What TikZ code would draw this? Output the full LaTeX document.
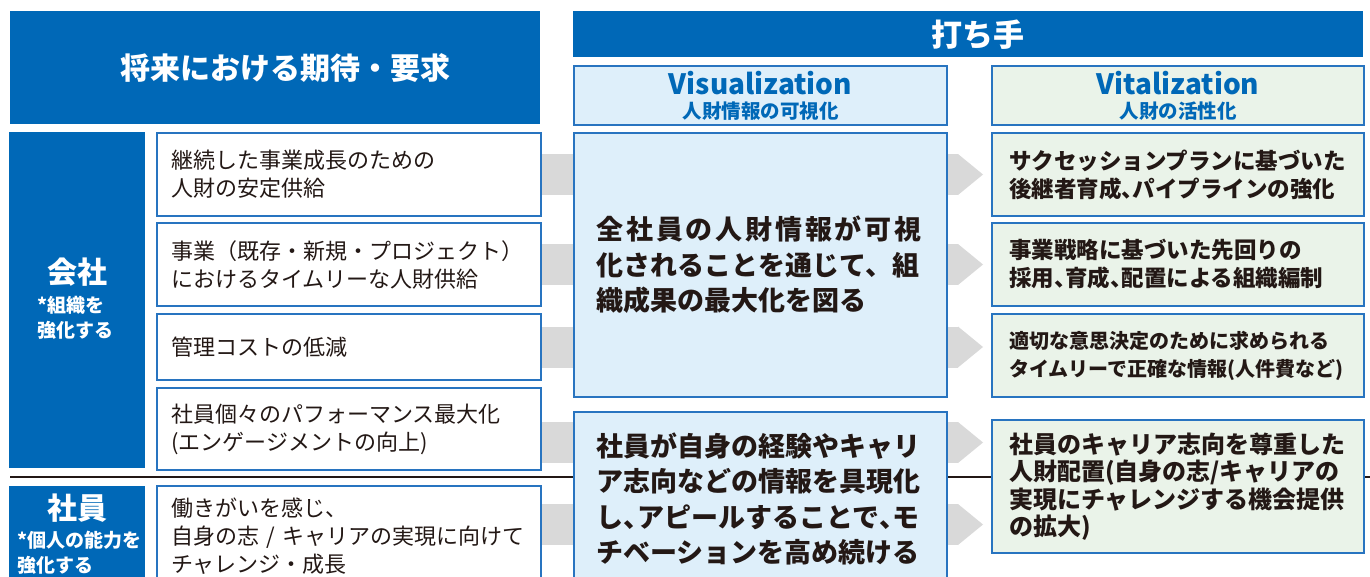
\documentclass[tikz,border=0pt]{standalone}
\usepackage{fontspec}
\setmainfont{Noto Sans CJK JP}
\usetikzlibrary{arrows.meta,backgrounds}
\definecolor{headblue}{RGB}{0,104,183}
\definecolor{lineblue}{RGB}{40,116,192}
\definecolor{visfill}{RGB}{222,239,250}
\definecolor{vitfill}{RGB}{234,243,233}
\definecolor{bandgray}{RGB}{217,217,217}
\definecolor{ink}{RGB}{35,24,21}
\newcommand\halfcomma{\makebox[.5em][l]{、}}
\newcommand\pxfont[2]{\fontsize{#1}{#2}\selectfont}

\begin{document}
\begin{tikzpicture}[x=1pt, y=-1pt,
    head/.style={fill=headblue, text=white, anchor=north west, inner sep=0pt, font=\bfseries\pxfont{30}{34}},
    subhead/.style={draw=lineblue, line width=2pt, fill=#1, anchor=north west, inner sep=0pt, minimum height=59pt, text=headblue, font=\bfseries\pxfont{28}{24}, align=center},
    side/.style={fill=headblue, anchor=north west, inner sep=0pt, minimum width=136pt, minimum height=#1},
    sidetitle/.style={text=white, inner sep=0pt, font=\bfseries\pxfont{30}{34}},
    sidenote/.style={text=white, inner sep=0pt, anchor=west, align=left, font=\bfseries\pxfont{19}{25}},
    reqbox/.style={draw=lineblue, line width=2pt, fill=white, anchor=north west, inner xsep=14pt, inner ysep=0pt, text width=356pt, minimum height=#1, align=left, text=ink, font=\pxfont{22}{28}},
    visbox/.style={draw=lineblue, line width=2pt, fill=visfill, anchor=north west, inner xsep=22.5pt, inner ysep=0pt, text width=328pt, minimum height=#1, align=left, text=ink, font=\bfseries\pxfont{27}{35.5}},
    vitbox/.style={draw=lineblue, line width=2pt, fill=vitfill, anchor=north west, inner xsep=17pt, inner ysep=0pt, text width=338pt, minimum height=#1, align=left, text=ink, font=\bfseries\pxfont{22.5}{28}},
    band/.style={draw=bandgray, line width=41pt, -{Triangle[length=25pt, width=41pt, line width=0pt]}, shorten >=8pt},
    divider/.style={draw=ink, line width=1.5pt}]
\useasboundingbox (0,0) rectangle (1370,576);
\clip (0,0) rectangle (1370,576);

\node[head, minimum width=530pt, minimum height=113pt] (hdReq) at (10,11) {\hspace*{20pt}将来における期待・要求};
\node[head, minimum width=790pt, minimum height=46pt, font=\bfseries\pxfont{31}{34}] (hdAct) at (573,11) {\hspace*{20pt}打ち手};
\node[subhead=visfill, minimum width=373pt] (hdVis) at (573,65) {Visualization\\{\pxfont{19.5}{23}人財情報の可視化}};
\node[subhead=vitfill, minimum width=372pt] (hdVit) at (991,65) {Vitalization\\{\pxfont{19.5}{23}人財の活性化}};

\node[side=336pt] (kaisha) at (9,132) {};
\node[sidetitle] (kaishaT) at (77,272) {会社};
\node[sidenote] (kaishaN) at (37,317.5) {*組織を\\強化する};
\node[side=120pt] (shain) at (9,486) {};
\node[sidetitle] (shainT) at (77,508) {社員};
\node[sidenote] (shainN) at (17,552.5) {*個人の能力を\\強化する};

\node[reqbox=83pt] (req1) at (156,132) {継続した事業成長のための\\人財の安定供給};
\node[reqbox=83pt] (req2) at (156,222) {事業（既存・新規・プロジェクト）\\におけるタイムリーな人財供給};
\node[reqbox=66pt] (req3) at (156,313) {管理コストの低減};
\node[reqbox=82pt] (req4) at (156,387) {社員個々のパフォーマンス最大化\\(エンゲージメントの向上)};
\node[reqbox=100pt] (req5) at (156,485) {働きがいを感じ、\\自身の志 / キャリアの実現に向けて\\チャレンジ・成長};

\node[visbox=264pt] (vis1) at (573,132) {{\addfontfeature{LetterSpace=10.4}全社員の人財情報が可視}\\化されることを通じて、組\\織成果の最大化を図る};
\node[visbox=174pt] (vis2) at (573,411) {社員が自身の経験やキャリ\\ア志向などの情報を具現化\\し\halfcomma アピールすることで\halfcomma モ\\チベーションを高め続ける};

\node[vitbox=83pt] (vit1) at (991,132) {サクセッションプランに基づいた\\後継者育成\halfcomma パイプラインの強化};
\node[vitbox=83pt] (vit2) at (991,222) {事業戦略に基づいた先回りの\\採用\halfcomma 育成\halfcomma 配置による組織編制};
\node[vitbox=83pt, font=\bfseries\pxfont{20}{28}] (vit3) at (991,313) {適切な意思決定のために求められる\\タイムリーで正確な情報(人件費など)};
\node[vitbox=133pt, font=\bfseries\pxfont{24}{27.5}] (vit4) at (991,419) {社員のキャリア志向を尊重した\\人財配置(自身の志/キャリアの\\実現にチャレンジする機会提供\\の拡大)};

\coordinate (divL) at (10,477);
\coordinate (divR) at (1370,477);
\coordinate (b4) at ([yshift=-13.5pt]req4.east);
\coordinate (b5) at ([yshift=11.5pt]req5.east);
\begin{scope}[on background layer]
\draw[divider] (divL) -- (divR);
\draw[band] (req1.east) -- (req1.east -| vit1.west);
\draw[band] (req2.east) -- (req2.east -| vit2.west);
\draw[band] (req3.east) -- (req3.east -| vit3.west);
\draw[band] (b4) -- (b4 -| vit4.west);
\draw[band] (b5) -- (b5 -| vit4.west);
\end{scope}
\end{tikzpicture}
\end{document}
